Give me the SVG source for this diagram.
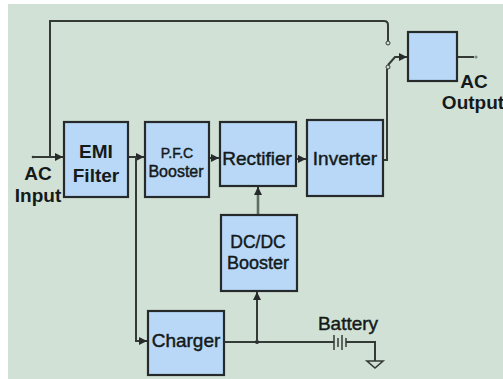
<svg xmlns="http://www.w3.org/2000/svg" width="503" height="379" viewBox="0 0 503 379">
<defs>
<style>
.box{fill:#b9d8f7;stroke:#262a2a;stroke-width:2.2}
.w{fill:none;stroke:#343a36;stroke-width:2}
.t{font-family:"Liberation Sans",Arial,sans-serif;fill:#141a1a;text-anchor:middle}
.b{font-weight:bold}
.n{stroke:#141a1a;stroke-width:0.45}
</style>
<marker id="ar" viewBox="0 0 6 6" refX="6" refY="3" markerWidth="4" markerHeight="4" orient="auto" markerUnits="strokeWidth">
<path d="M0,0 L6,3 L0,6 z" fill="#262a2a"/>
</marker>
</defs>
<rect x="0" y="0" width="503" height="379" fill="#ffffff"/>
<rect x="8" y="4" width="495" height="375" fill="#d1e1d6"/>

<g id="connectors">
<path class="w" d="M50,157 V21 H384 Q388,21 388,25 V41"/>
<circle cx="388" cy="43" r="2" fill="none" stroke="#343a36" stroke-width="1"/>
<path class="w" d="M33,157 H63" marker-end="url(#ar)"/>
<circle cx="33" cy="157" r="1.3" fill="#343a36"/>
<path class="w" d="M128,157 H144" marker-end="url(#ar)"/>
<path class="w" d="M136,157 V341 H147" marker-end="url(#ar)"/>
<path class="w" d="M209,158 H219" marker-end="url(#ar)"/>
<path class="w" d="M296,159 H306" marker-end="url(#ar)"/>
<path class="w" d="M383,160 H387 V69"/>
<circle cx="388" cy="67" r="2" fill="none" stroke="#343a36" stroke-width="1"/>
<path class="w" d="M388,65 L395,57 H407" marker-end="url(#ar)"/>
<path class="w" d="M457,57 H474"/>
<circle cx="476" cy="57" r="1.6" fill="#7a8a80"/>
<path style="fill:none;stroke:#5f6e64;stroke-width:2.6" d="M258,215 V189"/>
<path class="w" d="M258,192 V187" marker-end="url(#ar)"/>
<path class="w" d="M224,342 H334"/>
<circle cx="257" cy="342" r="2" fill="#262a2a"/>
<path class="w" d="M257,342 V292" marker-end="url(#ar)"/>
<g stroke="#343a36" stroke-width="1.5">
<line x1="334" y1="335" x2="334" y2="350"/>
<line x1="338" y1="338" x2="338" y2="347"/>
<line x1="342" y1="335" x2="342" y2="350"/>
<line x1="346" y1="338" x2="346" y2="347"/>
</g>
<path class="w" d="M346,342 H375 V361"/>
<path d="M367,361 H383 L375,368 Z" fill="none" stroke="#343a36" stroke-width="1.6"/>
</g>

<g id="ac-input">
<text class="t b" x="38" y="180" font-size="19">AC</text>
<text class="t b" x="38" y="202" font-size="19">Input</text>
</g>
<g id="emi-filter">
<rect class="box" x="64" y="122" width="64" height="75"/>
<text class="t b" x="96" y="158" font-size="19">EMI</text>
<text class="t b" x="96" y="182" font-size="19">Filter</text>
</g>
<g id="pfc-booster">
<rect class="box" x="145" y="122" width="64" height="75"/>
<text class="t n" x="177" y="158" font-size="14">P.F.C</text>
<text class="t n" x="176" y="177" font-size="16">Booster</text>
</g>
<g id="rectifier">
<rect class="box" x="220" y="122" width="76" height="64"/>
<text class="t n" x="257" y="165" font-size="19">Rectifier</text>
</g>
<g id="inverter">
<rect class="box" x="307" y="120" width="76" height="76"/>
<text class="t n" x="345" y="165" font-size="19">Inverter</text>
</g>
<g id="dcdc-booster">
<rect class="box" x="221" y="215" width="76" height="76"/>
<text class="t n" x="258" y="248" font-size="17.5">DC/DC</text>
<text class="t n" x="258" y="269" font-size="18">Booster</text>
</g>
<g id="charger">
<rect class="box" x="148" y="311" width="76" height="64"/>
<text class="t n" x="186" y="347" font-size="19">Charger</text>
</g>
<g id="battery">
<text class="t n" x="348" y="330" font-size="19">Battery</text>
</g>
<g id="ac-output">
<rect class="box" x="408" y="32" width="49" height="49"/>
<text class="t b" x="474" y="88" font-size="19">AC</text>
<text class="t b" x="473" y="109" font-size="19">Output</text>
</g>
</svg>
